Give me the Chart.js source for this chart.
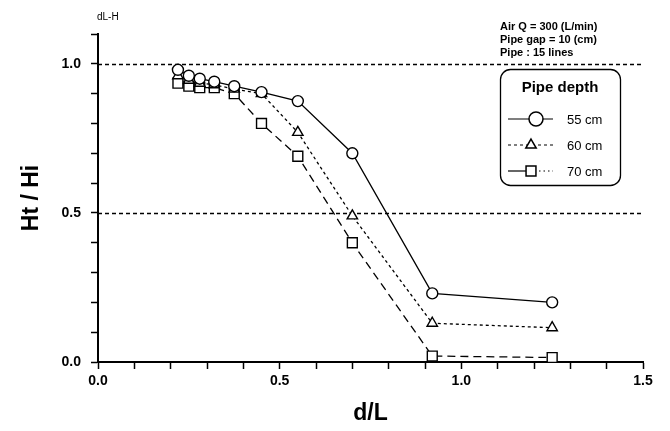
<!DOCTYPE html>
<html>
<head>
<meta charset="utf-8">
<script src="https://cdn.jsdelivr.net/npm/chart.js@4/dist/chart.umd.min.js"></script>
<style>
  body { margin: 0; background: #fff; }
  #wrap { width: 670px; height: 431px; }
</style>
</head>
<body>
<div id="wrap"><canvas id="myChart" width="670" height="431"></canvas></div>
<script>
const dL = [0.22, 0.25, 0.28, 0.32, 0.375, 0.45, 0.55, 0.70, 0.92, 1.25];
const ht55 = [0.98, 0.96, 0.95, 0.94, 0.925, 0.905, 0.875, 0.70, 0.23, 0.20];
const ht60 = [0.96, 0.945, 0.935, 0.93, 0.915, 0.90, 0.77, 0.49, 0.13, 0.115];
const ht70 = [0.935, 0.925, 0.92, 0.92, 0.90, 0.80, 0.69, 0.40, 0.02, 0.015];

const refLevels = [1.0, 0.5];
const seriesNames = ['55 cm', '60 cm', '70 cm'];
const notes = ['Air Q = 300 (L/min)', 'Pipe gap = 10 (cm)', 'Pipe : 15 lines'];

const FONT = "'Liberation Sans', Arial, sans-serif";

function pts(ys) {
    return dL.map((x, i) => ({ x: x, y: ys[i] }));
}

function isMajor(v) {
    return Math.abs(v * 2 - Math.round(v * 2)) < 1e-6;
}

const styles = [
    { pointStyle: 'circle', pointRadius: 5.5, borderDash: [] },
    { pointStyle: 'triangle', pointRadius: 6, borderDash: [3, 3] },
    { pointStyle: 'rect', pointRadius: 7, borderDash: [8, 5] }
];

const data = {
    datasets: [ht55, ht60, ht70].map((ys, i) => ({
        label: seriesNames[i],
        data: pts(ys),
        showLine: true,
        borderColor: '#000',
        borderWidth: 1.3,
        borderDash: styles[i].borderDash,
        pointStyle: styles[i].pointStyle,
        pointRadius: styles[i].pointRadius,
        pointBackgroundColor: '#fff',
        pointBorderColor: '#000',
        pointBorderWidth: 1.4
    }))
};

// dashed reference lines, notes, and the rounded legend box
const extras = {
    id: 'extras',
    beforeDatasetsDraw(chart) {
        const ctx = chart.ctx;
        const xs = chart.scales.x;
        const ys = chart.scales.y;
        ctx.save();
        ctx.strokeStyle = '#000';
        ctx.lineWidth = 1.3;
        ctx.setLineDash([4, 3]);
        refLevels.forEach(v => {
            const py = Math.round(ys.getPixelForValue(v)) + 0.5;
            ctx.beginPath();
            ctx.moveTo(xs.left, py);
            ctx.lineTo(xs.right, py);
            ctx.stroke();
        });
        ctx.restore();
    },
    afterDraw(chart) {
        const ctx = chart.ctx;
        ctx.save();
        ctx.fillStyle = '#000';
        ctx.textBaseline = 'middle';
        ctx.textAlign = 'left';

        ctx.font = '10px ' + FONT;
        ctx.fillText('dL-H', 97, 17);

        ctx.font = 'bold 11px ' + FONT;
        notes.forEach((t, i) => ctx.fillText(t, 500, 27 + i * 13));

        // legend box
        ctx.strokeStyle = '#000';
        ctx.lineWidth = 1.3;
        ctx.beginPath();
        ctx.roundRect(500.5, 69.5, 120, 116, 10);
        ctx.fillStyle = '#fff';
        ctx.fill();
        ctx.stroke();

        ctx.fillStyle = '#000';
        ctx.textAlign = 'center';
        ctx.font = 'bold 15px ' + FONT;
        ctx.fillText('Pipe depth', 560, 88);

        ctx.textAlign = 'left';
        ctx.font = '13px ' + FONT;
        chart.data.datasets.forEach((ds, i) => {
            const y = 119 + i * 26;
            ctx.lineWidth = 1.2;
            ctx.strokeStyle = '#000';
            if (i === 2) {
                ctx.setLineDash([]);
                ctx.beginPath(); ctx.moveTo(508, y); ctx.lineTo(530, y); ctx.stroke();
                ctx.setLineDash([1.5, 3]);
                ctx.beginPath(); ctx.moveTo(530, y); ctx.lineTo(553, y); ctx.stroke();
            } else {
                ctx.setLineDash(ds.borderDash);
                ctx.beginPath(); ctx.moveTo(508, y); ctx.lineTo(553, y); ctx.stroke();
            }
            ctx.setLineDash([]);
            ctx.fillStyle = '#fff';
            ctx.lineWidth = 1.5;
            Chart.helpers.drawPoint(ctx, {
                pointStyle: ds.pointStyle,
                radius: i === 0 ? 7 : ds.pointRadius,
                borderWidth: 1.5,
                rotation: 0
            }, i === 0 ? 536 : 531, y);
            ctx.fillStyle = '#000';
            ctx.fillText(ds.label, 567, y + 1);
        });
        ctx.restore();
    }
};

const axisCommon = {
    type: 'linear',
    border: { color: '#000', width: 2 },
    grid: {
        drawOnChartArea: false,
        drawTicks: true,
        tickLength: 7,
        tickWidth: 1.5,
        color: '#000'
    }
};

const config = {
    type: 'scatter',
    data: data,
    options: {
        responsive: false,
        animation: false,
        layout: { padding: { top: 34, right: 27, left: 0, bottom: 0 } },
        scales: {
            x: {
                ...axisCommon,
                min: 0,
                max: 1.5,
                afterFit(scale) { scale.height = 69; },
                ticks: {
                    stepSize: 0.1,
                    autoSkip: false,
                    maxRotation: 0,
                    padding: 4,
                    color: '#000',
                    font: { family: FONT, size: 14, weight: 'bold' },
                    callback: v => isMajor(v) ? v.toFixed(1) : ''
                },
                title: {
                    display: true,
                    text: 'd/L',
                    color: '#000',
                    font: { family: FONT, size: 23, weight: 'bold' },
                    padding: { top: 2 }
                }
            },
            y: {
                ...axisCommon,
                min: 0,
                max: 1.1,
                afterFit(scale) { scale.width = 98; },
                ticks: {
                    stepSize: 0.1,
                    autoSkip: false,
                    padding: 10,
                    color: '#000',
                    font: { family: FONT, size: 14, weight: 'bold' },
                    callback: v => isMajor(v) ? v.toFixed(1) : ''
                },
                title: {
                    display: true,
                    text: 'Ht / Hi',
                    color: '#000',
                    font: { family: FONT, size: 23, weight: 'bold' },
                    padding: { top: 18, bottom: 0 }
                }
            }
        },
        plugins: {
            legend: { display: false },
            tooltip: { enabled: false }
        }
    },
    plugins: [extras]
};

const myChart = new Chart(document.getElementById('myChart'), config);
</script>
</body>
</html>
